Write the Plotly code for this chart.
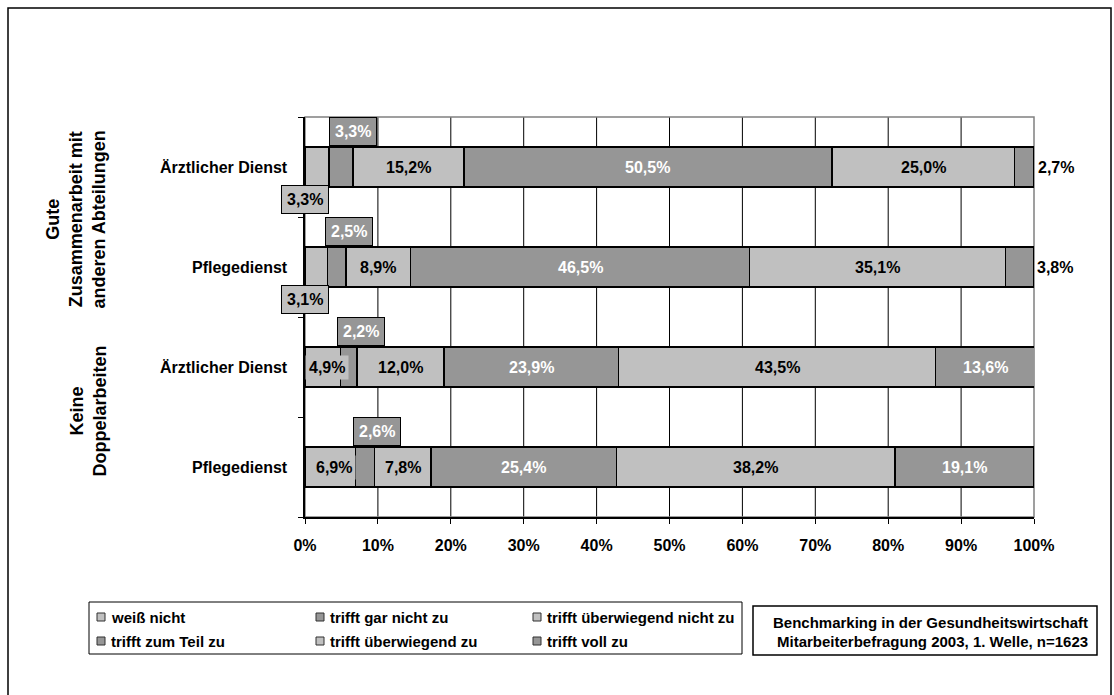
import plotly.graph_objects as go

# ---- data -------------------------------------------------------------
categories = ["Ärztlicher Dienst", "Pflegedienst", "Ärztlicher Dienst", "Pflegedienst"]
groups = ["Gute<br>Zusammenarbeit mit<br>anderen Abteilungen", "Keine<br>Doppelarbeiten"]
series_names = [
    "weiß nicht",
    "trifft gar nicht zu",
    "trifft überwiegend nicht zu",
    "trifft zum Teil zu",
    "trifft überwiegend zu",
    "trifft voll zu",
]
weiss_nicht = [3.3, 3.1, 4.9, 6.9]
gar_nicht = [3.3, 2.5, 2.2, 2.6]
ueberwiegend_nicht = [15.2, 8.9, 12.0, 7.8]
zum_teil = [50.5, 46.5, 23.9, 25.4]
ueberwiegend_zu = [25.0, 35.1, 43.5, 38.2]
voll = [2.7, 3.8, 13.6, 19.1]
x_ticks = list(range(0, 101, 10))
x_tick_labels = [f"{t}%" for t in x_ticks]
source_lines = [
    "Benchmarking in der Gesundheitswirtschaft",
    "Mitarbeiterbefragung 2003, 1. Welle, n=1623",
]

# ---- styling ----------------------------------------------------------
LIGHT = "#C0C0C0"
DARK = "#969696"
series_values = [weiss_nicht, gar_nicht, ueberwiegend_nicht, zum_teil, ueberwiegend_zu, voll]
series_colors = [LIGHT, DARK, LIGHT, DARK, LIGHT, DARK]
FONT = "Liberation Sans, Arial, sans-serif"

W, H = 1114, 695
L, R, T, B = 305, 80, 117, 178
PW, PH = W - L - R, H - T - B


def px_x(p):
    return (p - L) / PW


def px_y(p):
    return (H - B - p) / PH


n_rows = len(categories)
y_pos = [n_rows - i - 0.5 for i in range(n_rows)]


def fmt(v):
    return f"{v:.1f}".replace(".", ",") + "%"


fig = go.Figure()
for name, vals, col in zip(series_names, series_values, series_colors):
    fig.add_trace(go.Bar(
        y=y_pos, x=vals, name=name, orientation="h", width=0.4,
        marker=dict(color=col, line=dict(color="black", width=1.5)),
        showlegend=False, hoverinfo="skip",
    ))

ann = []
shapes = []

# value labels
for r in range(n_rows):
    start = 0.0
    for s, vals in enumerate(series_values):
        v = vals[r]
        mid = start + v / 2
        end = start + v
        text_col = "white" if series_colors[s] == DARK else "black"
        base = dict(xref="x", yref="y", y=y_pos[r], text=fmt(v), showarrow=False,
                    font=dict(family=FONT, size=16, color=text_col, weight="bold"))
        if s == 0 and v < 4:
            # narrow first segment: boxed label below the bar start
            base.update(x=0, xanchor="center", yshift=-32, bgcolor=LIGHT,
                        bordercolor="black", borderwidth=1, borderpad=5)
        elif s == 0:
            base.update(x=mid, xshift=4, bgcolor=LIGHT, borderpad=3)
        elif s == 1:
            # narrow second segment: boxed label above the bar
            base.update(x=mid, xshift=12, yshift=36, bgcolor=DARK,
                        bordercolor="black", borderwidth=1, borderpad=5)
        elif s == len(series_values) - 1 and v < 5:
            base.update(x=end, xanchor="left", xshift=2,
                        font=dict(family=FONT, size=16, color="black", weight="bold"))
        else:
            base.update(x=mid)
        ann.append(base)
        start = end

# row labels
for r, c in enumerate(categories):
    ann.append(dict(xref="paper", yref="y", x=0, xshift=-15, xanchor="right", y=y_pos[r],
                    text=c, showarrow=False,
                    font=dict(family=FONT, size=16, color="black", weight="bold")))

# group labels (rotated)
rows_per_group = n_rows // len(groups)
for g, label in enumerate(groups):
    yc = n_rows - g * rows_per_group - rows_per_group / 2
    ann.append(dict(xref="paper", yref="y", x=px_x(111), xanchor="right", y=yc,
                    yshift=-3 if g == 0 else 6,
                    text=label, textangle=-90, showarrow=False, align="center",
                    font=dict(family=FONT, size=18, color="black", weight="bold")))

# grid lines and plot border
for t in x_ticks[1:-1]:
    shapes.append(dict(type="line", xref="x", yref="paper", x0=t, x1=t, y0=0, y1=1,
                       line=dict(color="black", width=1), layer="below"))
shapes.append(dict(type="rect", xref="paper", yref="paper", x0=0, x1=1, y0=0, y1=1,
                   line=dict(color="#808080", width=1.5), layer="below"))

# outer frame
shapes.append(dict(type="rect", xref="paper", yref="paper",
                   x0=px_x(8), x1=px_x(1111), y0=px_y(730), y1=px_y(8),
                   line=dict(color="black", width=1.5)))

# legend box
shapes.append(dict(type="rect", xref="paper", yref="paper",
                   x0=px_x(89), x1=px_x(742), y0=px_y(654), y1=px_y(602),
                   line=dict(color="black", width=1)))
col_x = [97, 316, 533]
row_y = [617, 641]
for i, (name, col) in enumerate(zip(series_names, series_colors)):
    cx = col_x[i % 3]
    cy = row_y[i // 3]
    shapes.append(dict(type="rect", xref="paper", yref="paper",
                       x0=px_x(cx), x1=px_x(cx + 8), y0=px_y(cy + 4), y1=px_y(cy - 4),
                       fillcolor=col, line=dict(color="#303030", width=1)))
    ann.append(dict(xref="paper", yref="paper", x=px_x(cx + 12), y=px_y(cy),
                    xanchor="left", yanchor="middle", text=name, showarrow=False,
                    font=dict(family=FONT, size=15, color="black", weight="bold")))

# source box
shapes.append(dict(type="rect", xref="paper", yref="paper",
                   x0=px_x(753), x1=px_x(1097), y0=px_y(655), y1=px_y(606),
                   line=dict(color="black", width=1.5)))
for k, line in enumerate(source_lines):
    ann.append(dict(xref="paper", yref="paper", x=px_x(1090), y=px_y(622 + 19 * k),
                    xanchor="right", yanchor="middle", text=line, showarrow=False,
                    font=dict(family=FONT, size=15, color="black", weight="bold")))

fig.update_layout(
    width=W, height=H,
    margin=dict(l=L, r=R, t=T, b=B, pad=0),
    barmode="stack",
    paper_bgcolor="white",
    plot_bgcolor="rgba(0,0,0,0)",
    annotations=ann,
    shapes=shapes,
    xaxis=dict(range=[0, 100], tickvals=x_ticks, ticktext=x_tick_labels,
               ticks="outside", ticklen=5, tickcolor="black", tickwidth=1,
               showline=True, linecolor="black", linewidth=1.5,
               showgrid=False, zeroline=False, ticklabelstandoff=8,
               tickfont=dict(family=FONT, size=16, color="black", weight="bold"),
               fixedrange=True),
    yaxis=dict(range=[0, n_rows], tickvals=list(range(n_rows + 1)),
               ticks="outside", ticklen=5, tickcolor="black", tickwidth=1,
               showticklabels=False, showline=True, linecolor="black", linewidth=1.5,
               showgrid=False, zeroline=False, fixedrange=True),
)

fig.write_html("out.html", config={"displayModeBar": False})
